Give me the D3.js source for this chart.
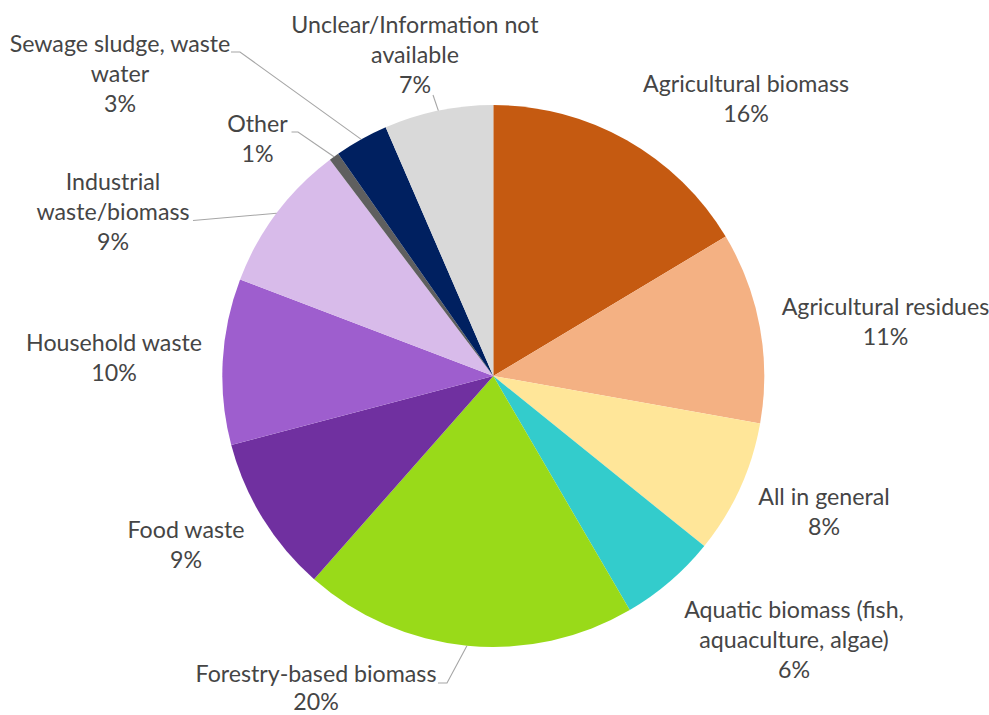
<!DOCTYPE html>
<html>
<head>
<meta charset="utf-8">
<script src="https://cdn.jsdelivr.net/npm/d3@7"></script>
<style>
  html, body { margin: 0; padding: 0; background: #fff; }
  svg { display: block; }
  .slice-label { font-family: Lato, "Open Sans", sans-serif; font-size: 23.2px; fill: #454545; }
  .leader { fill: none; stroke: #a6a6a6; stroke-width: 1.1; }
</style>
</head>
<body>
<svg id="chart"></svg>
<script>
// share of sources, clockwise from 12 o'clock (%)
const categories = [
  "Agricultural biomass",
  "Agricultural residues",
  "All in general",
  "Aquatic biomass (fish, aquaculture, algae)",
  "Forestry-based biomass",
  "Food waste",
  "Household waste",
  "Industrial waste/biomass",
  "Other",
  "Sewage sludge, waste water",
  "Unclear/Information not available",
];
const shares = [16.4, 11.4, 8.0, 5.8, 19.9, 9.4, 9.9, 8.9, 0.6, 3.2, 6.5];
const sliceColors = [
  "#c55a11", "#f4b183", "#ffe699", "#33cccc", "#99da19", "#7030a0",
  "#9e5ece", "#d8bbea", "#5f5f5f", "#002060", "#d9d9d9",
];

const chartSettings = {
  width: 989,
  height: 715,
  cx: 493.3,
  cy: 376,
  radius: 271,
  lineHeight: 30,
};

// where Excel put each label: text lines, centre x, first baseline, leader elbow
const labelLayout = {
  "Agricultural biomass": { lines: ["Agricultural biomass"], x: 746, y: 92 },
  "Agricultural residues": { lines: ["Agricultural residues"], x: 885.5, y: 315 },
  "All in general": { lines: ["All in general"], x: 824, y: 505 },
  "Aquatic biomass (fish, aquaculture, algae)": {
    lines: ["Aquatic biomass (fish,", "aquaculture, algae)"], x: 794, y: 618,
  },
  "Forestry-based biomass": {
    lines: ["Forestry-based biomass"], x: 316, y: 682, lineHeight: 28,
    leader: [[438, 683], [447, 683]],
  },
  "Food waste": { lines: ["Food waste"], x: 186, y: 538 },
  "Household waste": { lines: ["Household waste"], x: 114, y: 351 },
  "Industrial waste/biomass": {
    lines: ["Industrial", "waste/biomass"], x: 113, y: 190,
    leader: [[193, 220.5]],
  },
  "Other": {
    lines: ["Other"], x: 257.5, y: 132,
    leader: [[291.5, 132], [298, 132]],
  },
  "Sewage sludge, waste water": {
    lines: ["Sewage sludge, waste", "water"], x: 120, y: 52,
    leader: [[231, 52], [240, 52]],
  },
  "Unclear/Information not available": {
    lines: ["Unclear/Information not", "available"], x: 415, y: 33,
    leader: [[433, 95]],
  },
};

const { width, height, cx, cy, radius, lineHeight } = chartSettings;

const svg = d3.select("#chart").attr("width", width).attr("height", height);
const chartContainer = svg.append("g").attr("transform", `translate(${cx} ${cy})`);

const total = d3.sum(shares);
const pieData = d3
  .pie()
  .sort(null)
  .value((d) => d.value)(categories.map((name, i) => ({ name, value: shares[i], color: sliceColors[i] })));

const arc = d3.arc().innerRadius(0).outerRadius(radius);
const edgeArc = d3.arc().innerRadius(radius).outerRadius(radius);

chartContainer
  .append("g")
  .attr("class", "slices")
  .selectAll("path")
  .data(pieData)
  .join("path")
  .attr("d", arc)
  .attr("fill", (d) => d.data.color);

// leader lines: label elbow -> slice edge at mid angle
const leaderGroup = svg.append("g").attr("class", "leaders");
pieData.forEach((d) => {
  const layout = labelLayout[d.data.name];
  if (!layout.leader) return;
  const [ex, ey] = edgeArc.centroid(d);
  const points = layout.leader.concat([[cx + ex, cy + ey]]);
  leaderGroup.append("path").attr("class", "leader").attr("d", d3.line()(points));
});

// labels
const labelGroup = svg.append("g").attr("class", "labels");
pieData.forEach((d) => {
  const layout = labelLayout[d.data.name];
  const pct = `${Math.round((d.data.value / total) * 100)}%`;
  const text = labelGroup
    .append("text")
    .attr("class", "slice-label")
    .attr("text-anchor", "middle")
    .attr("x", layout.x)
    .attr("y", layout.y);
  layout.lines.concat([pct]).forEach((line, i) => {
    text
      .append("tspan")
      .attr("x", layout.x)
      .attr("dy", i === 0 ? 0 : layout.lineHeight || lineHeight)
      .text(line);
  });
});
</script>
</body>
</html>
